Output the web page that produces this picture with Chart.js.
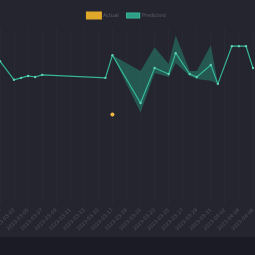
<!DOCTYPE html>
<html>
<head>
<meta charset="utf-8">
<script src="https://cdn.jsdelivr.net/npm/chart.js@4.4.1/dist/chart.umd.min.js"></script>
<style>
  html, body { margin: 0; padding: 0; background: #1b1b25; overflow: hidden; }
  #wrap { width: 261px; height: 237px; margin-left: -4px; background: #25252f; }
</style>
</head>
<body>
<div id="wrap"><canvas id="grafico"></canvas></div>
<script>
// datas (eixo x)
const datas = [];
for (let d = 1; d <= 37; d++) {
    const dt = new Date(Date.UTC(2023, 2, d));
    datas.push(dt.toISOString().slice(0, 10));
}

// valores (null = sem dado)
const previsto = [81.2, null, 70.6, 71.7, 72.8, 72.2, 73.4, null, null, null,
    null, null, null, null, null, 71.7, 84.6, null, null, null,
    57.4, null, 77.3, null, 73.9, 85.7, null, 73.9, 72.2, null,
    79.0, 68.3, null, 89.7, 89.7, 89.7, 77.3];

const limiteSup = [null, null, null, null, null, null, null, null, null, null,
    null, null, null, null, null, null, 84.6, null, null, null,
    75.6, null, 89.1, null, 79.6, 95.8, null, 75.6, 75.6, null,
    90.2, 68.3, null, null, null, null, null];

const limiteInf = [null, null, null, null, null, null, null, null, null, null,
    null, null, null, null, null, null, 84.6, null, null, null,
    52.0, null, 74.5, null, 72.2, 80.1, null, 72.8, 71.1, null,
    70.0, 68.3, null, null, null, null, null];

const real = [null, null, null, null, null, null, null, null, null, null,
    null, null, null, null, null, null, 50.9, null, null, null,
    null, null, null, null, null, null, null, null, null, null,
    null, null, null, null, null, null, null];

const corTeal = '#2e9e86';
const corAmarela = '#e0a82a';

new Chart(document.getElementById('grafico'), {
    type: 'line',
    data: {
        labels: datas,
        datasets: [
            {
                label: 'Actual',
                data: real,
                showLine: false,
                backgroundColor: corAmarela,
                borderColor: corAmarela,
                pointRadius: 2,
                pointBackgroundColor: '#f0b840',
                pointBorderWidth: 0
            },
            {
                label: 'Predicted',
                data: previsto,
                borderColor: '#35b59a',
                backgroundColor: corTeal,
                borderWidth: 1.2,
                pointRadius: 1.2,
                pointBackgroundColor: '#5fcfb6',
                pointBorderWidth: 0,
                spanGaps: true,
                tension: 0
            },
            {
                label: 'sup',
                data: limiteSup,
                borderWidth: 0,
                pointRadius: 0,
                spanGaps: true,
                fill: false
            },
            {
                label: 'inf',
                data: limiteInf,
                borderWidth: 0,
                pointRadius: 0,
                spanGaps: true,
                backgroundColor: 'rgba(38, 150, 125, 0.45)',
                fill: '-1'
            }
        ]
    },
    options: {
        responsive: true,
        maintainAspectRatio: false,
        animation: false,
        layout: { padding: { top: 5, left: 0, right: 0, bottom: 2 } },
        plugins: {
            legend: {
                labels: {
                    color: '#5f6370',
                    boxWidth: 13,
                    boxHeight: 5,
                    padding: 8,
                    font: { size: 5, family: 'DejaVu Sans' },
                    filter: item => item.datasetIndex < 2
                }
            },
            tooltip: { enabled: false }
        },
        scales: {
            x: {
                offset: false,
                grid: { color: 'rgba(255,255,255,0.02)', drawTicks: false },
                border: { display: false },
                ticks: {
                    color: '#4f5361',
                    font: { size: 5, family: 'DejaVu Sans' },
                    minRotation: 45,
                    maxRotation: 45,
                    autoSkip: true,
                    padding: 3
                },
                // deixa o gráfico ocupar a largura toda (rótulos podem sair da borda)
                afterFit: escala => {
                    escala.paddingLeft = 0;
                    escala.paddingRight = 0;
                }
            },
            y: {
                display: false,
                min: 0,
                max: 100
            }
        }
    }
});
</script>
</body>
</html>
